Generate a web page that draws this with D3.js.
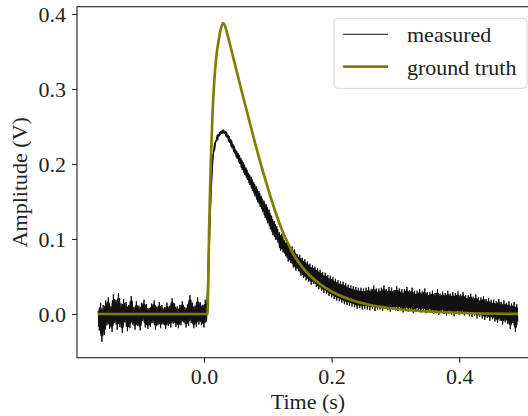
<!DOCTYPE html>
<html>
<head>
<meta charset="utf-8">
<script src="https://cdn.jsdelivr.net/npm/d3@7"></script>
<style>
body { margin: 0; background: #fff; }
svg text { font-family: "Liberation Serif", "Times New Roman", serif; fill: #222; }
</style>
</head>
<body>
<div id="chart"></div>
<script>
const width = 528;
const height = 416;

// measured trace, sampled every 2 ms from t = -0.166 s, values in mV
const measuredStart = -0.166;
const measuredStep = 0.002;
const measuredMv = [
    4, -22, 15, -37, 12, -28, 18, -15, 22, -20,
    10, -24, 26, -12, 19, -21, 28, -17, 14, -25,
    20, -11, 16, -23, 12, -19, 24, -14, 9, -21,
    17, -16, 11, -22, 15, -9, 19, -18, 13, -20,
    8, -17, 14, -12, 18, -21, 10, -15, 16, -19,
    12, -14, 9, -20, 15, -16, 11, -18, 21, -13,
    14, -17, 10, -19, 12, -15, 17, -11, 9, -18,
    13, -16, 25, -12, 15, -19, 11, -17, 22, -14,
    16, -15, 12, -18, 19, -10, 25, 95, 148, 186,
    212, 219, 231, 230, 240, 237, 244, 240, 246, 240,
    244, 235, 239, 228, 233, 221, 226, 214, 219, 207,
    214, 200, 208, 192, 202, 185, 195, 179, 188, 172,
    183, 164, 176, 157, 170, 149, 164, 143, 157, 136,
    151, 128, 146, 121, 139, 113, 131, 105, 124, 99,
    117, 95, 109, 84, 107, 82, 98, 77, 99, 70,
    93, 68, 90, 62, 86, 58, 80, 57, 79, 51,
    75, 48, 73, 45, 70, 43, 67, 39, 65, 40,
    63, 36, 61, 33, 59, 31, 56, 28, 55, 27,
    52, 24, 51, 22, 49, 20, 47, 18, 45, 17,
    44, 15, 43, 13, 41, 12, 39, 11, 38, 10,
    37, 9, 36, 7, 35, 8, 35, 6, 34, 7,
    35, 6, 36, 5, 33, 7, 38, 4, 34, 6,
    34, 6, 35, 4, 38, 7, 33, 5, 36, 3,
    35, 6, 32, 5, 37, 4, 34, 7, 33, 2,
    33, 5, 36, 3, 32, 6, 35, 1, 31, 4,
    31, 3, 33, 2, 30, 4, 34, 1, 29, 3,
    29, 2, 31, 0, 28, 1, 33, -1, 27, 2,
    30, 0, 28, -2, 31, 1, 27, -1, 29, -3,
    28, 0, 30, -1, 26, 2, 29, -2, 25, 0,
    25, -3, 27, -4, 23, -2, 26, -6, 22, -4,
    22, -6, 24, -8, 20, -5, 21, -9, 19, -7,
    19, -10, 17, -12, 20, -9, 16, -14, 18, -11,
    15, -13, 17, -20, 14, -12, 16, -24, 13, -10
];

// ground truth
const gtTime = [-0.166, 0.0055, 0.0062, 0.0068, 0.008, 0.0095, 0.011, 0.0136, 0.0165, 0.0188,
    0.023, 0.027, 0.030, 0.033, 0.036, 0.040, 0.045, 0.050, 0.055, 0.060,
    0.070, 0.080, 0.090, 0.100, 0.110, 0.120, 0.130, 0.140, 0.150, 0.165,
    0.180, 0.200, 0.230, 0.260, 0.290, 0.320, 0.360, 0.420, 0.492];
const gtValue = [0, 0, 0.02, 0.05, 0.11, 0.165, 0.21, 0.272, 0.315, 0.339,
    0.365, 0.382, 0.388, 0.384, 0.375, 0.362, 0.345, 0.328, 0.311, 0.294,
    0.261, 0.228, 0.197, 0.168, 0.141, 0.117, 0.097, 0.080, 0.067, 0.052,
    0.041, 0.030, 0.019, 0.012, 0.008, 0.005, 0.003, 0.001, 0];

const xTicks = [0.0, 0.2, 0.4];
const yTicks = [0.0, 0.1, 0.2, 0.3, 0.4];
const seriesNames = ["measured", "ground truth"];

const plotLeft = 77, plotRight = 539, plotTop = 6.7, plotBottom = 357.7;
const olive = "#808000";

const svg = d3.select("#chart")
    .append("svg")
    .attr("width", width)
    .attr("height", height);

const x = d3.scaleLinear().domain([-0.199, 0.525]).range([plotLeft, plotRight]);
const y = d3.scaleLinear().domain([-0.0583, 0.4097]).range([plotBottom, plotTop]);

const measured = measuredMv.map((v, i) => [measuredStart + i * measuredStep, v / 1000]);
const truth = gtTime.map((t, i) => [t, gtValue[i]]);

// the dense trace reads as a solid band: fill the inner part of what the zigzag
// sweeps so its tips still stick out as needles
const n = measured.length;
const band = measured.map((d, i) => {
    const vals = [measured[Math.max(0, i - 1)][1], d[1], measured[Math.min(n - 1, i + 1)][1]];
    const lo = d3.min(vals), hi = d3.max(vals), mid = (lo + hi) / 2;
    return [d[0], mid - 0.35 * (hi - lo), mid + 0.35 * (hi - lo)];
});

svg.append("path")
    .datum(band)
    .attr("fill", "#111")
    .attr("d", d3.area().curve(d3.curveMonotoneX).x(d => x(d[0])).y0(d => y(d[1])).y1(d => y(d[2])));

svg.append("path")
    .datum(measured)
    .attr("fill", "none")
    .attr("stroke", "#111")
    .attr("stroke-width", 1)
    .attr("d", d3.line().x(d => x(d[0])).y(d => y(d[1])));

svg.append("path")
    .datum(truth)
    .attr("fill", "none")
    .attr("stroke", olive)
    .attr("stroke-width", 2.7)
    .attr("stroke-linejoin", "round")
    .attr("d", d3.line().curve(d3.curveMonotoneX).x(d => x(d[0])).y(d => y(d[1])));

// spines
svg.append("rect")
    .attr("x", plotLeft).attr("y", plotTop)
    .attr("width", plotRight - plotLeft).attr("height", plotBottom - plotTop)
    .attr("fill", "none")
    .attr("stroke", "#222")
    .attr("stroke-width", 1.1);

const xAxis = svg.append("g")
    .attr("transform", `translate(0,${plotBottom})`)
    .call(d3.axisBottom(x).tickValues(xTicks).tickFormat(d3.format(".1f")).tickSize(5).tickPadding(6));

const yAxis = svg.append("g")
    .attr("transform", `translate(${plotLeft},0)`)
    .call(d3.axisLeft(y).tickValues(yTicks).tickFormat(d3.format(".1f")).tickSize(5).tickPadding(6));

[xAxis, yAxis].forEach(g => {
    g.select(".domain").remove();
    g.selectAll("line").attr("stroke", "#222").attr("stroke-width", 1.1);
    g.selectAll("text").style("font-size", "22px").attr("fill", "#222");
});

svg.append("text")
    .attr("x", (plotLeft + plotRight) / 2)
    .attr("y", 409)
    .attr("text-anchor", "middle")
    .style("font-size", "22px")
    .text("Time (s)");

svg.append("text")
    .attr("transform", `translate(27,${(plotTop + plotBottom) / 2}) rotate(-90)`)
    .attr("text-anchor", "middle")
    .style("font-size", "22px")
    .text("Amplitude (V)");

// legend
const legend = svg.append("g");
legend.append("rect")
    .attr("x", 334).attr("y", 18.3)
    .attr("width", 193).attr("height", 70)
    .attr("rx", 4)
    .attr("fill", "#fff").attr("fill-opacity", 0.8)
    .attr("stroke", "#d6d6d6");

const legendColors = ["#111", olive];
const legendWidths = [1, 2.7];
seriesNames.forEach((name, i) => {
    const ly = 34.3 + i * 32.4;
    legend.append("line")
        .attr("x1", 343).attr("x2", 388)
        .attr("y1", ly).attr("y2", ly)
        .attr("stroke", legendColors[i])
        .attr("stroke-width", legendWidths[i]);
    legend.append("text")
        .attr("x", 407)
        .attr("y", ly + 8)
        .style("font-size", "22px")
        .text(name);
});
</script>
</body>
</html>
